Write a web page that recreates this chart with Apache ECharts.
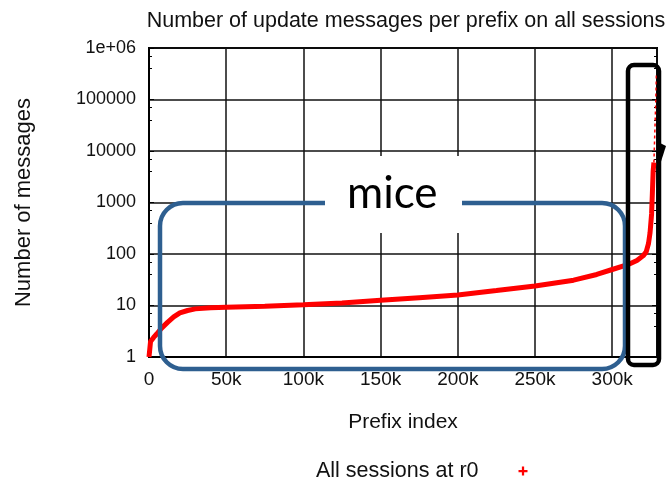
<!DOCTYPE html>
<html>
<head>
<meta charset="utf-8">
<script src="https://cdn.jsdelivr.net/npm/echarts@6/dist/echarts.min.js"></script>
<style>
  html, body { margin: 0; padding: 0; background: #fff; }
  #chart { width: 666px; height: 477px; }
</style>
</head>
<body>
<div id="chart"></div>
<script>
// prefixes sorted by message count
const prefixIndex = [0, 1000, 3000, 5000, 8000, 12000, 16000, 20000, 25000, 30000, 40000, 50000, 75000,
    100000, 125000, 150000, 175000, 200000, 225000, 250000, 275000, 290000, 300000, 310000, 316000,
    320000, 322000, 323500, 324500, 325500, 326000, 326500, 327000];
const msgCount = [1, 2, 2.4, 2.8, 3.6, 4.7, 6, 7.2, 8, 8.6, 9, 9.2, 9.7,
    10.3, 11.2, 12.6, 14.2, 16, 19.5, 24, 31, 40, 50, 62, 75,
    92, 110, 160, 260, 600, 1500, 4000, 6000];
// sparse top end (elephants)
const tailIndex = [327000, 327300, 327700, 328000, 328300, 328600];
const tailCount = [6000, 12000, 30000, 60000, 120000, 320000];

const xTicks = [0, 50000, 100000, 150000, 200000, 250000, 300000];
const yTickLabels = {1: '1', 10: '10', 100: '100', 1000: '1000', 10000: '10000', 100000: '100000', 1000000: '1e+06'};

const seriesName = 'All sessions at r0';
const font = 'Liberation Sans, Arial, sans-serif';
const txt = '#111';

const chart = echarts.init(document.getElementById('chart'));

chart.setOption({
    animation: false,
    title: {
        text: 'Number of update messages per prefix on all sessions',
        left: 401,
        textAlign: 'center',
        top: 5,
        textStyle: {fontFamily: font, fontSize: 21.5, fontWeight: 'normal', color: txt}
    },
    grid: {
        left: 149, right: 9, top: 48, bottom: 120,
        show: true, borderColor: '#000', borderWidth: 2
    },
    legend: {
        data: [{name: seriesName, icon: 'path://M3,0h2v3h3v2h-3v3h-2v-3h-3v-2h3z'}],
        left: 311,
        top: 455,
        align: 'right',
        itemWidth: 9,
        itemHeight: 9,
        textStyle: {fontFamily: font, fontSize: 21.5, color: txt, padding: [0, 35, 0, 0]}
    },
    xAxis: {
        type: 'value',
        min: 0,
        max: 329000,
        interval: 50000,
        name: 'Prefix index',
        nameLocation: 'middle',
        nameGap: 55,
        nameTextStyle: {fontFamily: font, fontSize: 21, color: txt},
        axisLine: {show: true, lineStyle: {color: '#000', width: 2}},
        axisTick: {show: false},
        axisLabel: {
            margin: 13,
            fontFamily: font, fontSize: 19, color: txt,
            showMaxLabel: false,
            formatter: function (v) {
                if (xTicks.indexOf(v) < 0) return '';
                return v === 0 ? '0' : (v / 1000) + 'k';
            }
        },
        splitLine: {show: true, lineStyle: {color: '#111', width: 1.5}}
    },
    yAxis: [{
        type: 'log',
        logBase: 10,
        min: 1,
        max: 1000000,
        name: 'Number of messages',
        nameLocation: 'middle',
        nameGap: 114,
        nameTextStyle: {fontFamily: font, fontSize: 22, color: txt},
        axisLine: {show: true, lineStyle: {color: '#000', width: 2}},
        axisTick: {show: true, inside: true, length: 5, lineStyle: {color: '#000'}},
        minorTick: {show: true, splitNumber: 3, length: 3, lineStyle: {color: '#000'}},
        axisLabel: {
            margin: 13,
            fontFamily: font, fontSize: 18, color: txt,
            formatter: function (v) { return yTickLabels[Math.round(v)] || ''; }
        },
        splitLine: {show: true, lineStyle: {color: '#111', width: 1.5}}
    }, {
        type: 'log',
        logBase: 10,
        min: 1,
        max: 1000000,
        position: 'right',
        axisLine: {show: false},
        axisTick: {show: true, inside: true, length: 5, lineStyle: {color: '#000'}},
        minorTick: {show: true, splitNumber: 3, length: 3, lineStyle: {color: '#000'}},
        axisLabel: {show: false},
        splitLine: {show: false}
    }],
    series: [{
        name: seriesName,
        type: 'line',
        data: prefixIndex.map((x, i) => [x, msgCount[i]]),
        symbol: 'none',
        color: '#ff0000',
        lineStyle: {width: 5, color: '#ff0000'},
        z: 3
    }, {
        name: 'tail',
        type: 'line',
        data: tailIndex.map((x, i) => [x, tailCount[i]]),
        symbol: 'none',
        lineStyle: {width: 1.5, color: '#ff0000', type: [3, 3]},
        z: 3
    }],
    graphic: [
        // blue "mice" box
        {type: 'rect', z: 100, shape: {x: 160, y: 203, width: 465, height: 166, r: 23},
            style: {fill: 'none', stroke: '#2e5f90', lineWidth: 4.5}},
        {type: 'rect', z: 101, shape: {x: 325, y: 156, width: 137, height: 77},
            style: {fill: '#fff'}},
        {type: 'text', z: 102, left: 347, top: 172,
            style: {text: 'mice', font: '44px Lato, "Open Sans", sans-serif', fill: '#000'}},
        // black "elephants" box
        {type: 'rect', z: 100, shape: {x: 628, y: 65, width: 31, height: 300, r: 6},
            style: {fill: 'none', stroke: '#000', lineWidth: 4.5}},
        {type: 'polygon', z: 100, shape: {points: [[657, 174], [660, 143], [666, 146]]},
            style: {fill: '#000'}}
    ]
});
</script>
</body>
</html>
